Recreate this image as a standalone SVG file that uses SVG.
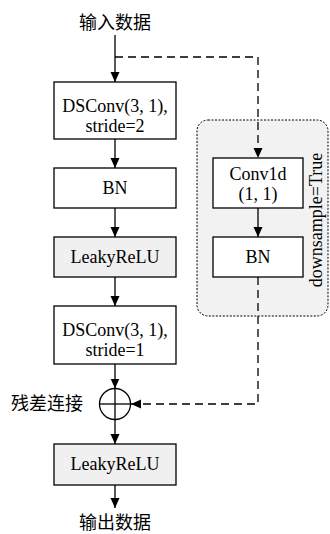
<svg xmlns="http://www.w3.org/2000/svg" width="330" height="534" viewBox="0 0 330 534">
<style>
.box{fill:#fff;stroke:#000;stroke-width:1.3}
.gray{fill:#f0f0f0;stroke:#000;stroke-width:1.3}
.t{font-family:"Liberation Serif","Times New Roman",serif;font-size:18px;fill:#000;text-anchor:middle}
.cn{font-family:"Noto Sans CJK SC","Noto Sans",sans-serif;font-size:18px;fill:#000;text-anchor:middle}
.ln{stroke:#000;stroke-width:1.3;fill:none}
.dash{stroke:#000;stroke-width:1.3;fill:none;stroke-dasharray:8 5}
</style>
<defs>
<marker id="ah" markerUnits="userSpaceOnUse" markerWidth="10" markerHeight="10" refX="10" refY="5" orient="auto">
<path d="M0,0.5 L10,5 L0,9.5 Z" fill="#000"/>
</marker>
</defs>
<g id="downsample-region">
<rect x="197" y="120" width="131" height="196" rx="11" ry="11" fill="#f2f2f2" stroke="#000" stroke-width="1" stroke-dasharray="2 1.5"/>
<text class="t" transform="translate(322,220) rotate(-90)">downsample=True</text>
</g>
<g id="connectors">
<line class="ln" x1="115" y1="35" x2="115" y2="82" marker-end="url(#ah)"/>
<line class="ln" x1="115" y1="139" x2="115" y2="168" marker-end="url(#ah)"/>
<line class="ln" x1="115" y1="208" x2="115" y2="237" marker-end="url(#ah)"/>
<line class="ln" x1="115" y1="277" x2="115" y2="306" marker-end="url(#ah)"/>
<line class="ln" x1="115" y1="364" x2="115" y2="388.5" marker-end="url(#ah)"/>
<line class="ln" x1="115" y1="419.5" x2="115" y2="444" marker-end="url(#ah)"/>
<line class="ln" x1="115" y1="485" x2="115" y2="508" marker-end="url(#ah)"/>
<path class="dash" d="M115,57 H258 V158" marker-end="url(#ah)"/>
<line class="ln" x1="258" y1="208" x2="258" y2="237" marker-end="url(#ah)"/>
<path class="dash" d="M258,277 V404 H131" marker-end="url(#ah)"/>
</g>
<g id="input"><text class="cn" x="115" y="29">输入数据</text></g>
<g id="dsconv1">
<rect class="box" x="54" y="82" width="122" height="57"/>
<text class="t" x="115" y="112">DSConv(3, 1),</text>
<text class="t" x="115" y="132">stride=2</text>
</g>
<g id="bn1">
<rect class="box" x="54" y="168" width="122" height="40"/>
<text class="t" x="115" y="194">BN</text>
</g>
<g id="leaky1">
<rect class="gray" x="54" y="237" width="122" height="40"/>
<text class="t" x="115" y="263">LeakyReLU</text>
</g>
<g id="dsconv2">
<rect class="box" x="54" y="306" width="122" height="58"/>
<text class="t" x="115" y="336">DSConv(3, 1),</text>
<text class="t" x="115" y="356">stride=1</text>
</g>
<g id="conv1d">
<rect class="box" x="213" y="158" width="90" height="50"/>
<text class="t" x="258" y="180">Conv1d</text>
<text class="t" x="258" y="200">(1, 1)</text>
</g>
<g id="bn2">
<rect class="box" x="213" y="237" width="90" height="40"/>
<text class="t" x="258" y="263">BN</text>
</g>
<g id="residual">
<circle cx="115" cy="404" r="15.5" fill="#fff" stroke="#000" stroke-width="1.3"/>
<line class="ln" x1="99.5" y1="404" x2="130.5" y2="404"/>
<line class="ln" x1="115" y1="388.5" x2="115" y2="419.5"/>
<text class="cn" x="47" y="410">残差连接</text>
</g>
<g id="leaky2">
<rect class="gray" x="54" y="444" width="122" height="41"/>
<text class="t" x="115" y="470">LeakyReLU</text>
</g>
<g id="output"><text class="cn" x="115" y="529">输出数据</text></g>
</svg>
